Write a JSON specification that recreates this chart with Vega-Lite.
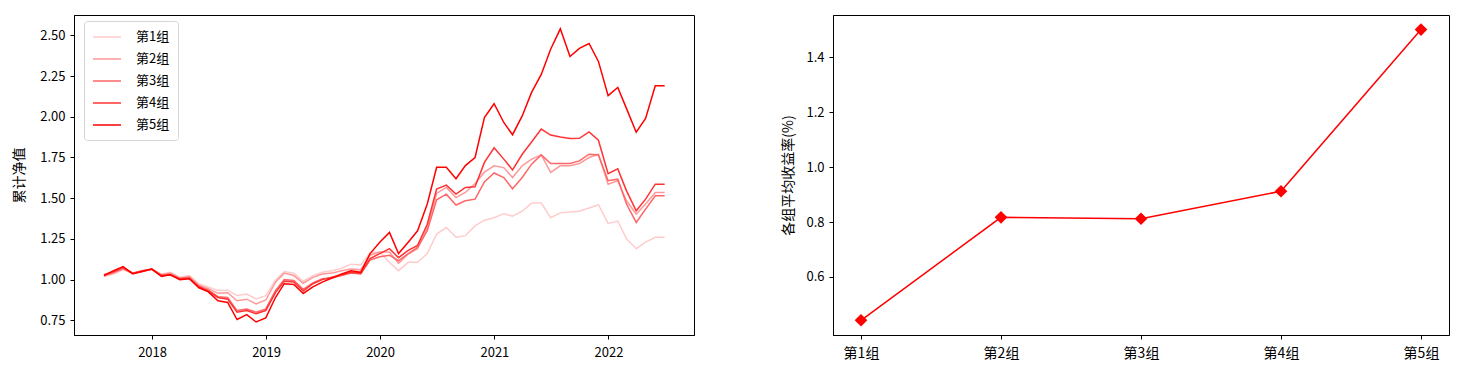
{
  "$schema": "https://vega.github.io/schema/vega-lite/v6.json",
  "padding": {"left": 12, "top": 14, "right": 5, "bottom": 5},
  "bounds": "flush",
  "spacing": 139,
  "config": {
    "font": "Noto Sans CJK SC",
    "view": {"stroke": "#000000", "strokeWidth": 1},
    "axis": {
      "domainColor": "#000000", "tickColor": "#000000", "labelColor": "#000000", "titleColor": "#000000",
      "grid": false, "tickSize": 4, "labelFontSize": 13, "titleFontSize": 14, "titleFontWeight": "normal",
      "labelFont": "Noto Sans CJK SC", "titleFont": "Noto Sans CJK SC", "domainWidth": 1, "tickWidth": 1,
      "labelPadding": 5, "titlePadding": 6
    },
    "axisX": {"labelPadding": 7}
  },
  "datasets": {
    "nav": [
      {"日期": "2017-07-31", "第1组": 1.02, "第2组": 1.02, "第3组": 1.025, "第4组": 1.03, "第5组": 1.025},
      {"日期": "2017-08-31", "第1组": 1.035, "第2组": 1.04, "第3组": 1.045, "第4组": 1.05, "第5组": 1.055},
      {"日期": "2017-09-30", "第1组": 1.06, "第2组": 1.065, "第3组": 1.07, "第4组": 1.075, "第5组": 1.08},
      {"日期": "2017-10-31", "第1组": 1.04, "第2组": 1.04, "第3组": 1.04, "第4组": 1.04, "第5组": 1.035},
      {"日期": "2017-11-30", "第1组": 1.05, "第2组": 1.05, "第3组": 1.05, "第4组": 1.055, "第5组": 1.05},
      {"日期": "2017-12-31", "第1组": 1.06, "第2组": 1.065, "第3组": 1.065, "第4组": 1.065, "第5组": 1.065},
      {"日期": "2018-01-31", "第1组": 1.035, "第2组": 1.03, "第3组": 1.025, "第4组": 1.025, "第5组": 1.02},
      {"日期": "2018-02-28", "第1组": 1.045, "第2组": 1.04, "第3组": 1.035, "第4组": 1.03, "第5组": 1.03},
      {"日期": "2018-03-31", "第1组": 1.015, "第2组": 1.01, "第3组": 1.005, "第4组": 1.005, "第5组": 1.0},
      {"日期": "2018-04-30", "第1组": 1.025, "第2组": 1.02, "第3组": 1.01, "第4组": 1.01, "第5组": 1.005},
      {"日期": "2018-05-31", "第1组": 0.975, "第2组": 0.965, "第3组": 0.96, "第4组": 0.955, "第5组": 0.95},
      {"日期": "2018-06-30", "第1组": 0.955, "第2组": 0.945, "第3组": 0.935, "第4组": 0.93, "第5组": 0.925},
      {"日期": "2018-07-31", "第1组": 0.933, "第2组": 0.916, "第3组": 0.895, "第4组": 0.89, "第5组": 0.87},
      {"日期": "2018-08-31", "第1组": 0.935, "第2组": 0.92, "第3组": 0.89, "第4组": 0.88, "第5组": 0.86},
      {"日期": "2018-09-30", "第1组": 0.902, "第2组": 0.87, "第3组": 0.81, "第4组": 0.8, "第5组": 0.755},
      {"日期": "2018-10-31", "第1组": 0.912, "第2组": 0.88, "第3组": 0.82, "第4组": 0.81, "第5组": 0.785},
      {"日期": "2018-11-30", "第1组": 0.882, "第2组": 0.851, "第3组": 0.8, "第4组": 0.79, "第5组": 0.74},
      {"日期": "2018-12-31", "第1组": 0.902, "第2组": 0.875, "第3组": 0.82, "第4组": 0.81, "第5组": 0.765},
      {"日期": "2019-01-31", "第1组": 0.998, "第2组": 0.984, "第3组": 0.933, "第4组": 0.92, "第5组": 0.89},
      {"日期": "2019-02-28", "第1组": 1.05, "第2组": 1.04, "第3组": 1.0, "第4组": 0.99, "第5组": 0.975},
      {"日期": "2019-03-31", "第1组": 1.04, "第2组": 1.025, "第3组": 0.995, "第4组": 0.985, "第5组": 0.97},
      {"日期": "2019-04-30", "第1组": 0.99, "第2组": 0.978, "第3组": 0.94, "第4组": 0.93, "第5组": 0.915},
      {"日期": "2019-05-31", "第1组": 1.025, "第2组": 1.014, "第3组": 0.98, "第4组": 0.975, "第5组": 0.955},
      {"日期": "2019-06-30", "第1组": 1.045, "第2组": 1.035, "第3组": 1.005, "第4组": 1.0, "第5组": 0.985},
      {"日期": "2019-07-31", "第1组": 1.055, "第2组": 1.04, "第3组": 1.01, "第4组": 1.015, "第5组": 1.01},
      {"日期": "2019-08-31", "第1组": 1.07, "第2组": 1.055, "第3组": 1.025, "第4组": 1.03, "第5组": 1.035},
      {"日期": "2019-09-30", "第1组": 1.095, "第2组": 1.065, "第3组": 1.04, "第4组": 1.045, "第5组": 1.055},
      {"日期": "2019-10-31", "第1组": 1.09, "第2组": 1.06, "第3组": 1.035, "第4组": 1.04, "第5组": 1.045},
      {"日期": "2019-11-30", "第1组": 1.165, "第2组": 1.15, "第3组": 1.12, "第4组": 1.13, "第5组": 1.16},
      {"日期": "2019-12-31", "第1组": 1.17, "第2组": 1.17, "第3组": 1.14, "第4组": 1.16, "第5组": 1.23},
      {"日期": "2020-01-31", "第1组": 1.106, "第2组": 1.17, "第3组": 1.15, "第4组": 1.19, "第5组": 1.29},
      {"日期": "2020-02-29", "第1组": 1.055, "第2组": 1.1, "第3组": 1.116, "第4组": 1.135, "第5组": 1.16},
      {"日期": "2020-03-31", "第1组": 1.106, "第2组": 1.157, "第3组": 1.16, "第4组": 1.18, "第5组": 1.23},
      {"日期": "2020-04-30", "第1组": 1.106, "第2组": 1.19, "第3组": 1.198, "第4组": 1.21, "第5组": 1.3},
      {"日期": "2020-05-31", "第1组": 1.16, "第2组": 1.32, "第3组": 1.3, "第4组": 1.34, "第5组": 1.465},
      {"日期": "2020-06-30", "第1组": 1.28, "第2组": 1.529, "第3组": 1.49, "第4组": 1.556, "第5组": 1.69},
      {"日期": "2020-07-31", "第1组": 1.32, "第2组": 1.566, "第3组": 1.525, "第4组": 1.58, "第5组": 1.69},
      {"日期": "2020-08-31", "第1组": 1.26, "第2组": 1.504, "第3组": 1.458, "第4组": 1.525, "第5组": 1.62},
      {"日期": "2020-09-30", "第1组": 1.27, "第2组": 1.535, "第3组": 1.484, "第4组": 1.566, "第5组": 1.7},
      {"日期": "2020-10-31", "第1组": 1.33, "第2组": 1.59, "第3组": 1.494, "第4组": 1.57, "第5组": 1.75},
      {"日期": "2020-11-30", "第1组": 1.365, "第2组": 1.66, "第3组": 1.6, "第4组": 1.72, "第5组": 1.995},
      {"日期": "2020-12-31", "第1组": 1.38, "第2组": 1.699, "第3组": 1.655, "第4组": 1.81, "第5组": 2.08},
      {"日期": "2021-01-31", "第1组": 1.405, "第2组": 1.688, "第3组": 1.627, "第4组": 1.74, "第5组": 1.965},
      {"日期": "2021-02-28", "第1组": 1.39, "第2组": 1.627, "第3组": 1.558, "第4组": 1.674, "第5组": 1.89},
      {"日期": "2021-03-31", "第1组": 1.42, "第2组": 1.699, "第3组": 1.627, "第4组": 1.77, "第5组": 2.005},
      {"日期": "2021-04-30", "第1组": 1.47, "第2组": 1.74, "第3组": 1.709, "第4组": 1.845, "第5组": 2.15},
      {"日期": "2021-05-31", "第1组": 1.47, "第2组": 1.766, "第3组": 1.766, "第4组": 1.925, "第5组": 2.26},
      {"日期": "2021-06-30", "第1组": 1.38, "第2组": 1.658, "第3组": 1.713, "第4组": 1.888, "第5组": 2.415},
      {"日期": "2021-07-31", "第1组": 1.41, "第2组": 1.699, "第3组": 1.713, "第4组": 1.876, "第5组": 2.54},
      {"日期": "2021-08-31", "第1组": 1.415, "第2组": 1.699, "第3组": 1.713, "第4组": 1.866, "第5组": 2.37},
      {"日期": "2021-09-30", "第1组": 1.42, "第2组": 1.713, "第3组": 1.729, "第4组": 1.868, "第5组": 2.42},
      {"日期": "2021-10-31", "第1组": 1.44, "第2组": 1.75, "第3组": 1.77, "第4组": 1.907, "第5组": 2.45},
      {"日期": "2021-11-30", "第1组": 1.46, "第2组": 1.77, "第3组": 1.766, "第4组": 1.856, "第5组": 2.34},
      {"日期": "2021-12-31", "第1组": 1.345, "第2组": 1.586, "第3组": 1.607, "第4组": 1.65, "第5组": 2.13},
      {"日期": "2022-01-31", "第1组": 1.36, "第2组": 1.607, "第3组": 1.617, "第4组": 1.68, "第5组": 2.18},
      {"日期": "2022-02-28", "第1组": 1.25, "第2组": 1.484, "第3组": 1.464, "第4组": 1.545, "第5组": 2.05},
      {"日期": "2022-03-31", "第1组": 1.19, "第2组": 1.402, "第3组": 1.351, "第4组": 1.423, "第5组": 1.905},
      {"日期": "2022-04-30", "第1组": 1.23, "第2组": 1.464, "第3组": 1.433, "第4组": 1.494, "第5组": 1.99},
      {"日期": "2022-05-31", "第1组": 1.26, "第2组": 1.535, "第3组": 1.515, "第4组": 1.586, "第5组": 2.19},
      {"日期": "2022-06-30", "第1组": 1.26, "第2组": 1.535, "第3组": 1.515, "第4组": 1.586, "第5组": 2.19}
    ],
    "ret": [
      {"组": "第1组", "收益率": 0.4425},
      {"组": "第2组", "收益率": 0.817},
      {"组": "第3组", "收益率": 0.812},
      {"组": "第4组", "收益率": 0.912},
      {"组": "第5组", "收益率": 1.5}
    ]
  },
  "hconcat": [
    {
      "width": 620,
      "height": 320,
      "data": {"name": "nav"},
      "transform": [{"fold": ["第1组", "第2组", "第3组", "第4组", "第5组"], "as": ["组", "净值"]}],
      "mark": {"type": "line", "strokeWidth": 1.5},
      "encoding": {
        "x": {
          "field": "日期", "type": "temporal",
          "scale": {"domain": [{"year": 2017, "month": 4, "date": 26}, {"year": 2022, "month": 10, "date": 2}]},
          "axis": {"title": null, "format": "%Y", "tickCount": {"interval": "year", "step": 1}, "labelAngle": 0, "labelFlush": false}
        },
        "y": {
          "field": "净值", "type": "quantitative",
          "scale": {"domain": [0.66, 2.625], "zero": false, "nice": false},
          "axis": {"title": "累计净值", "titlePadding": 13, "values": [0.75, 1.0, 1.25, 1.5, 1.75, 2.0, 2.25, 2.5], "format": ".2f"}
        },
        "color": {
          "field": "组", "type": "nominal",
          "scale": {"domain": ["第1组", "第2组", "第3组", "第4组", "第5组"], "range": ["#ffcccc", "#ff9999", "#ff6666", "#ff3333", "#ff0000"]},
          "legend": {
            "title": null, "orient": "none", "legendX": 10, "legendY": 6,
            "symbolType": "M-1,0L3,0", "symbolStrokeWidth": 1.5, "symbolSize": 196,
            "labelFontSize": 13, "labelFont": "Noto Sans CJK SC", "labelColor": "#000000", "labelOffset": 28,
            "rowPadding": 7, "padding": 8, "strokeColor": "#d5d5d5", "fillColor": "#ffffff", "cornerRadius": 3
          }
        }
      }
    },
    {
      "width": 616,
      "height": 320,
      "data": {"name": "ret"},
      "encoding": {
        "x": {"field": "组", "type": "ordinal", "sort": null, "scale": {"type": "point", "padding": 0.2}, "axis": {"title": null, "labelAngle": 0, "labelFontSize": 14}},
        "y": {
          "field": "收益率", "type": "quantitative",
          "scale": {"domain": [0.389, 1.553], "zero": false, "nice": false},
          "axis": {"title": "各组平均收益率(%)", "titlePadding": 10, "values": [0.6, 0.8, 1.0, 1.2, 1.4], "format": ".1f"}
        }
      },
      "layer": [
        {"mark": {"type": "line", "color": "#ff0000", "strokeWidth": 1.5}},
        {"mark": {"type": "point", "shape": "diamond", "filled": true, "color": "#ff0000", "size": 160, "opacity": 1}}
      ]
    }
  ]
}
